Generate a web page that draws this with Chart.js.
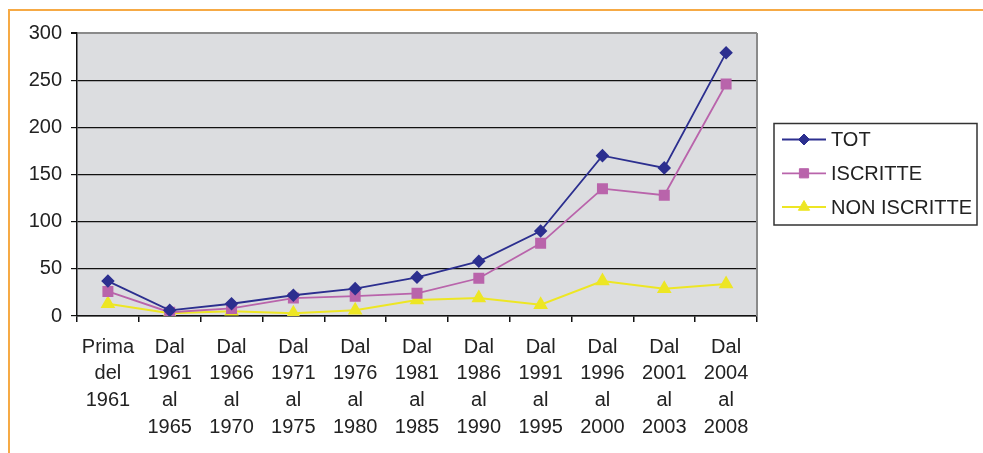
<!DOCTYPE html>
<html>
<head>
  <title>Iscritte e non iscritte</title>
  <script src="https://cdn.jsdelivr.net/npm/chart.js"></script>
  <style>
    body { margin: 0; background: #fff; }
    #wrap { position: relative; width: 983px; height: 453px; }
    #cornice { position: absolute; left: 8px; top: 9px; width: 975px; height: 444px;
      border-top: 2px solid #f6aa45; border-left: 2px solid #f6aa45; box-sizing: border-box; }
    canvas { position: absolute; left: 0; top: 0; }
  </style>
</head>
<body>
  <div id="wrap">
    <div id="cornice"></div>
    <canvas id="grafico" width="983" height="453"></canvas>
  </div>

  <script>
    // dati
    var periodi = [
      ["Prima", "del", "1961"],
      ["Dal", "1961", "al", "1965"],
      ["Dal", "1966", "al", "1970"],
      ["Dal", "1971", "al", "1975"],
      ["Dal", "1976", "al", "1980"],
      ["Dal", "1981", "al", "1985"],
      ["Dal", "1986", "al", "1990"],
      ["Dal", "1991", "al", "1995"],
      ["Dal", "1996", "al", "2000"],
      ["Dal", "2001", "al", "2003"],
      ["Dal", "2004", "al", "2008"]
    ];
    var tot          = [37, 6, 13, 22, 29, 41, 58, 90, 170, 157, 279];
    var iscritte     = [26, 4, 8, 19, 21, 24, 40, 77, 135, 128, 246];
    var nonIscritte  = [13, 3, 5, 3, 6, 17, 19, 12, 37, 29, 34];
    var yTicks = [0, 50, 100, 150, 200, 250, 300];

    var font = "'Liberation Sans', Arial, sans-serif";

    // sfondo grigio dell'area del grafico + bordo destro
    var sfondo = {
      id: 'sfondo',
      beforeDraw: function(chart) {
        var a = chart.chartArea, c = chart.ctx;
        c.save();
        c.fillStyle = '#dcdde0';
        c.fillRect(a.left, a.top, a.right - a.left, a.bottom - a.top);
        c.restore();
      },
      afterDraw: function(chart) {
        var a = chart.chartArea, c = chart.ctx;
        c.save();
        c.strokeStyle = '#8a8a8a';
        c.lineWidth = 2;
        c.beginPath();
        c.moveTo(a.right, a.top);
        c.lineTo(a.right, a.bottom);
        c.stroke();
        c.restore();
      }
    };

    // legenda con riquadro, linea e simbolo
    var legenda = {
      id: 'legenda',
      afterDraw: function(chart) {
        var c = chart.ctx;
        c.save();
        c.strokeStyle = '#333';
        c.lineWidth = 1.5;
        c.strokeRect(774, 123.5, 203, 101.5);
        var ys = [139.5, 173.3, 207];
        chart.data.datasets.forEach(function(ds, i) {
          var y = ys[i];
          c.strokeStyle = ds.borderColor;
          c.lineWidth = ds.borderWidth;
          c.beginPath();
          c.moveTo(782, y);
          c.lineTo(826, y);
          c.stroke();
          c.fillStyle = ds.pointBackgroundColor;
          c.strokeStyle = ds.pointBorderColor;
          c.lineWidth = 1;
          Chart.helpers.drawPoint(c, {
            pointStyle: ds.pointStyle, radius: ds.pointRadius, borderWidth: 1
          }, 804, y);
          c.fillStyle = '#222';
          c.font = '20px ' + font;
          c.textAlign = 'left';
          c.textBaseline = 'middle';
          c.fillText(ds.label, 831, y + 1);
        });
        c.restore();
      }
    };

    function serie(label, dati, colore, stile, raggio, spessore) {
      return {
        label: label,
        data: dati,
        borderColor: colore,
        backgroundColor: colore,
        pointBackgroundColor: colore,
        pointBorderColor: colore,
        borderWidth: spessore,
        pointStyle: stile,
        pointRadius: raggio,
        pointHoverRadius: raggio,
        tension: 0,
        fill: false
      };
    }

    var ctx = document.getElementById("grafico").getContext("2d");
    new Chart(ctx, {
      type: 'line',
      data: {
        labels: periodi,
        datasets: [
          serie('TOT', tot, '#2c2f8f', 'rectRot', 5.5, 1.8),
          serie('ISCRITTE', iscritte, '#b964ab', 'rect', 6.5, 1.8),
          serie('NON ISCRITTE', nonIscritte, '#ede624', 'triangle', 6.5, 2)
        ]
      },
      options: {
        responsive: false,
        animation: false,
        layout: { padding: { left: 0, top: 33, right: 226, bottom: 0 } },
        plugins: {
          legend: { display: false },
          tooltip: { enabled: false }
        },
        scales: {
          x: {
            offset: true,
            grid: {
              offset: true,
              drawOnChartArea: false,
              drawTicks: true,
              tickLength: 6,
              color: '#111',
              lineWidth: 1.5
            },
            border: { display: true, color: '#111', width: 1.5 },
            ticks: {
              color: '#222',
              font: { family: font, size: 20, lineHeight: 1.33 },
              padding: 12,
              maxRotation: 0,
              autoSkip: false
            },
            afterFit: function(s) { s.height = 137; }
          },
          y: {
            min: 0,
            max: 300,
            afterBuildTicks: function(s) {
              s.ticks = yTicks.map(function(v) { return { value: v }; });
            },
            grid: {
              color: function(c) { return c.tick && c.tick.value === 300 ? '#8a8a8a' : '#111'; },
              lineWidth: function(c) { return c.tick && c.tick.value === 300 ? 2 : 1.2; },
              tickColor: '#111',
              tickLength: 6
            },
            border: { display: true, color: '#111', width: 1.5 },
            ticks: {
              color: '#222',
              font: { family: font, size: 20 },
              padding: 9
            },
            afterFit: function(s) { s.width = 77; }
          }
        }
      },
      plugins: [sfondo, legenda]
    });
  </script>
</body>
</html>
